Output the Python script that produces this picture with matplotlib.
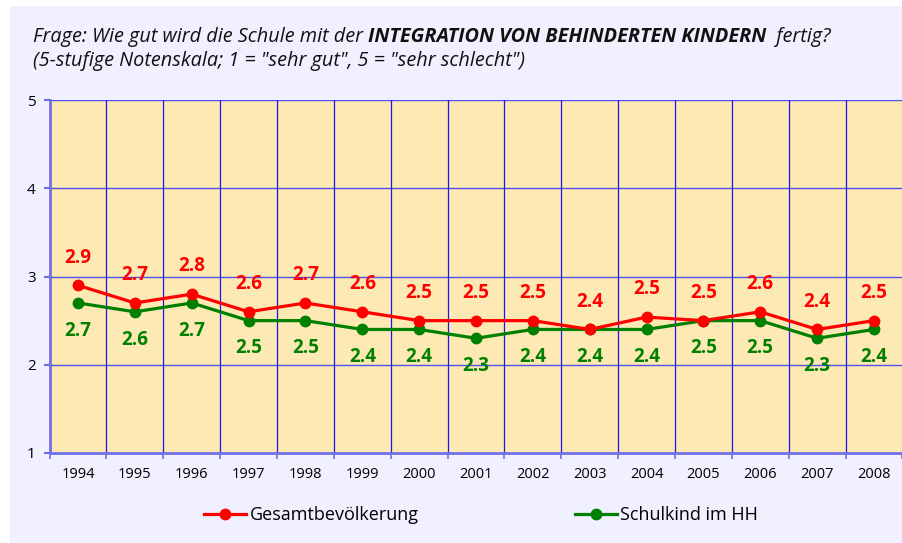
import matplotlib
matplotlib.use("Agg")
import matplotlib.pyplot as plt
from matplotlib.lines import Line2D
import matplotlib.patches as mpatches

years = ["1994", "1995", "1996", "1997", "1998", "1999", "2000", "2001",
         "2002", "2003", "2004", "2005", "2006", "2007", "2008"]
gesamt = [2.9, 2.7, 2.8, 2.6, 2.7, 2.6, 2.5, 2.5, 2.5, 2.4, 2.54, 2.5, 2.6, 2.4, 2.5]
schulkind = [2.7, 2.6, 2.7, 2.5, 2.5, 2.4, 2.4, 2.3, 2.4, 2.4, 2.4, 2.5, 2.5, 2.3, 2.4]
series_names = ["Gesamtbevölkerung", "Schulkind im HH"]
title_parts = [("Frage: Wie gut wird die Schule mit der ", "normal"),
               ("INTEGRATION VON BEHINDERTEN KINDERN", "bold"),
               ("  fertig?", "normal")]
title_line2 = '(5-stufige Notenskala; 1 = "sehr gut", 5 = "sehr schlecht")'

FONT = "Open Sans"
W, H = 903, 543
fig = plt.figure(figsize=(W / 100, H / 100), dpi=100)
fig.patch.set_facecolor("white")
fig.patches.append(mpatches.Rectangle((10 / W, 0), 1, 1 - 6 / H, transform=fig.transFigure,
                                      facecolor="#F0F0FF", edgecolor="none", zorder=-10))

ax = fig.add_axes([49.6 / W, 1 - 453 / H, 852.8 / W, 353 / H])
ax.set_facecolor("#FDE9B3")
n = len(years)
x = list(range(n))
ax.set_xlim(-0.5, n - 0.5)
ax.set_ylim(1, 5)

# grid
for yv in [2, 3, 4, 5]:
    ax.axhline(yv, color="#5050F0", lw=1.0, zorder=1)
for b in range(1, n):
    ax.axvline(b - 0.5, color="#1818F0", lw=0.9, zorder=1)

for s in ["top", "right"]:
    ax.spines[s].set_visible(False)
for s in ["left", "bottom"]:
    ax.spines[s].set_color("#7070E8")
    ax.spines[s].set_linewidth(2)

ax.set_yticks([1, 2, 3, 4, 5])
ax.set_yticklabels(["1", "2", "3", "4", "5"], fontsize=11, family=FONT)
ax.tick_params(axis="y", length=4, color="#7070E8", width=1.5, pad=6)
ax.set_xticks([b - 0.5 for b in range(n + 1)])
ax.set_xticklabels([])
ax.tick_params(axis="x", which="major", length=4, color="#7070E8", width=1.2)
ax.set_xticks(x, minor=True)
ax.set_xticklabels(years, minor=True, fontsize=10.5, family=FONT)
ax.tick_params(axis="x", which="minor", length=0, pad=10)

red = "#FF0000"
green = "#008000"
ax.plot(x, gesamt, color=red, lw=2.3, marker="o", ms=7.5, zorder=4)
ax.plot(x, schulkind, color=green, lw=2.3, marker="o", ms=7.5, zorder=3)

for i in x:
    ax.annotate(f"{gesamt[i]:.1f}", (i, gesamt[i]), xytext=(0, 20), textcoords="offset points",
                ha="center", va="center", color=red, fontsize=13.5, fontweight="bold", family=FONT)
    ax.annotate(f"{schulkind[i]:.1f}", (i, schulkind[i]), xytext=(0, -20), textcoords="offset points",
                ha="center", va="center", color=green, fontsize=13.5, fontweight="bold", family=FONT)

# legend
h1 = Line2D([], [], color=red, lw=2.3, marker="o", ms=7.5)
h2 = Line2D([], [], color=green, lw=2.3, marker="o", ms=7.5)
lp = {"family": FONT, "size": 13}
fig.legend([h1], [series_names[0]], loc="center left", bbox_to_anchor=(188 / W, 1 - 515 / H),
           frameon=False, prop=lp, handlelength=2.3, handletextpad=0.2)
fig.legend([h2], [series_names[1]], loc="center left", bbox_to_anchor=(559 / W, 1 - 515 / H),
           frameon=False, prop=lp, handlelength=2.3, handletextpad=0.2)

# title
fig.canvas.draw()
renderer = fig.canvas.get_renderer()
xpos = 33
for txt, wt in title_parts:
    t = fig.text(xpos / W, 1 - 37 / H, txt, fontsize=14.3, style="italic", fontweight=wt,
                 family=FONT, va="center", ha="left", color="#111111")
    bb = t.get_window_extent(renderer)
    xpos += bb.width
fig.text(33 / W, 1 - 61 / H, title_line2, fontsize=14.3, style="italic", family=FONT,
         va="center", ha="left", color="#111111")

fig.savefig("out.png", dpi=100, facecolor=fig.get_facecolor())
